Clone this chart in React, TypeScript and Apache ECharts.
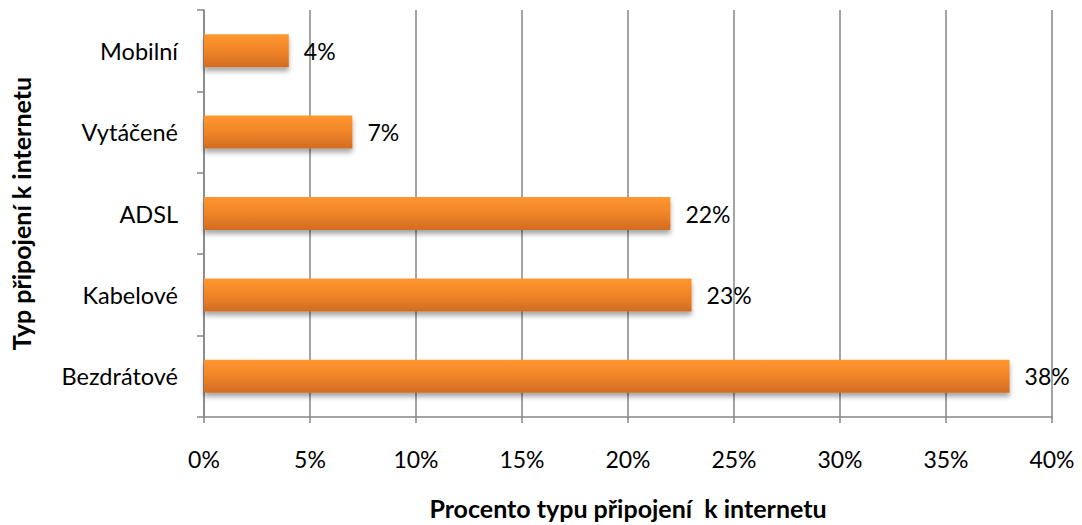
import React, { useEffect, useRef } from "react";
import * as echarts from "echarts";

const categories = ["Bezdrátové", "Kabelové", "ADSL", "Vytáčené", "Mobilní"];
const values = [38, 23, 22, 7, 4];
const xTicks = [0, 5, 10, 15, 20, 25, 30, 35, 40];

const FONT = "Lato, 'Open Sans', sans-serif";

export default function App() {
  const ref = useRef<HTMLDivElement>(null);
  useEffect(() => {
    const chart = echarts.init(ref.current!, undefined, { renderer: "svg" });
    chart.setOption({
      animation: false,
      backgroundColor: "#ffffff",
      grid: { left: 204, right: 30, top: 10, bottom: 108, containLabel: false },
      xAxis: {
        type: "value",
        min: xTicks[0],
        max: xTicks[xTicks.length - 1],
        interval: 5,
        name: "Procento typu připojení  k internetu",
        nameLocation: "middle",
        nameGap: 78,
        nameTextStyle: { fontFamily: FONT, fontSize: 25, fontWeight: "bold", color: "#000" },
        axisLine: { show: true, lineStyle: { color: "#868686", width: 1.5 } },
        axisTick: { show: true, length: 6, lineStyle: { color: "#868686", width: 1.5 } },
        axisLabel: {
          formatter: (v: number) => v + "%",
          fontFamily: FONT,
          fontSize: 23,
          color: "#000",
          margin: 30,
        },
        splitLine: { show: true, lineStyle: { color: "#868686", width: 1.5 } },
      },
      yAxis: {
        type: "category",
        data: categories,
        name: "Typ připojení k internetu",
        nameLocation: "middle",
        nameGap: 171,
        nameRotate: 90,
        nameTextStyle: { fontFamily: FONT, fontSize: 25, fontWeight: "bold", color: "#000" },
        axisLine: { show: true, lineStyle: { color: "#868686", width: 1.5 } },
        axisTick: { show: true, length: 7, inside: false, lineStyle: { color: "#868686", width: 1.5 } },
        axisLabel: { fontFamily: FONT, fontSize: 23.5, color: "#000", margin: 26 },
      },
      series: [
        {
          type: "bar",
          data: values,
          barWidth: 33,
          itemStyle: {
            color: new echarts.graphic.LinearGradient(0, 0, 0, 1, [
              { offset: 0, color: "#ff9730" },
              { offset: 0.5, color: "#f08428" },
              { offset: 1, color: "#d06c22" },
            ]),
            shadowColor: "rgba(0,0,0,0.35)",
            shadowBlur: 5,
            shadowOffsetY: 4,
          },
          label: {
            show: true,
            position: "right",
            distance: 15,
            formatter: (p: any) => p.value + "%",
            fontFamily: FONT,
            fontSize: 23,
            color: "#000",
          },
        },
      ],
    });
    return () => chart.dispose();
  }, []);
  return <div ref={ref} style={{ width: 1082, height: 525, position: "absolute", left: 0, top: 0 }} />;
}
